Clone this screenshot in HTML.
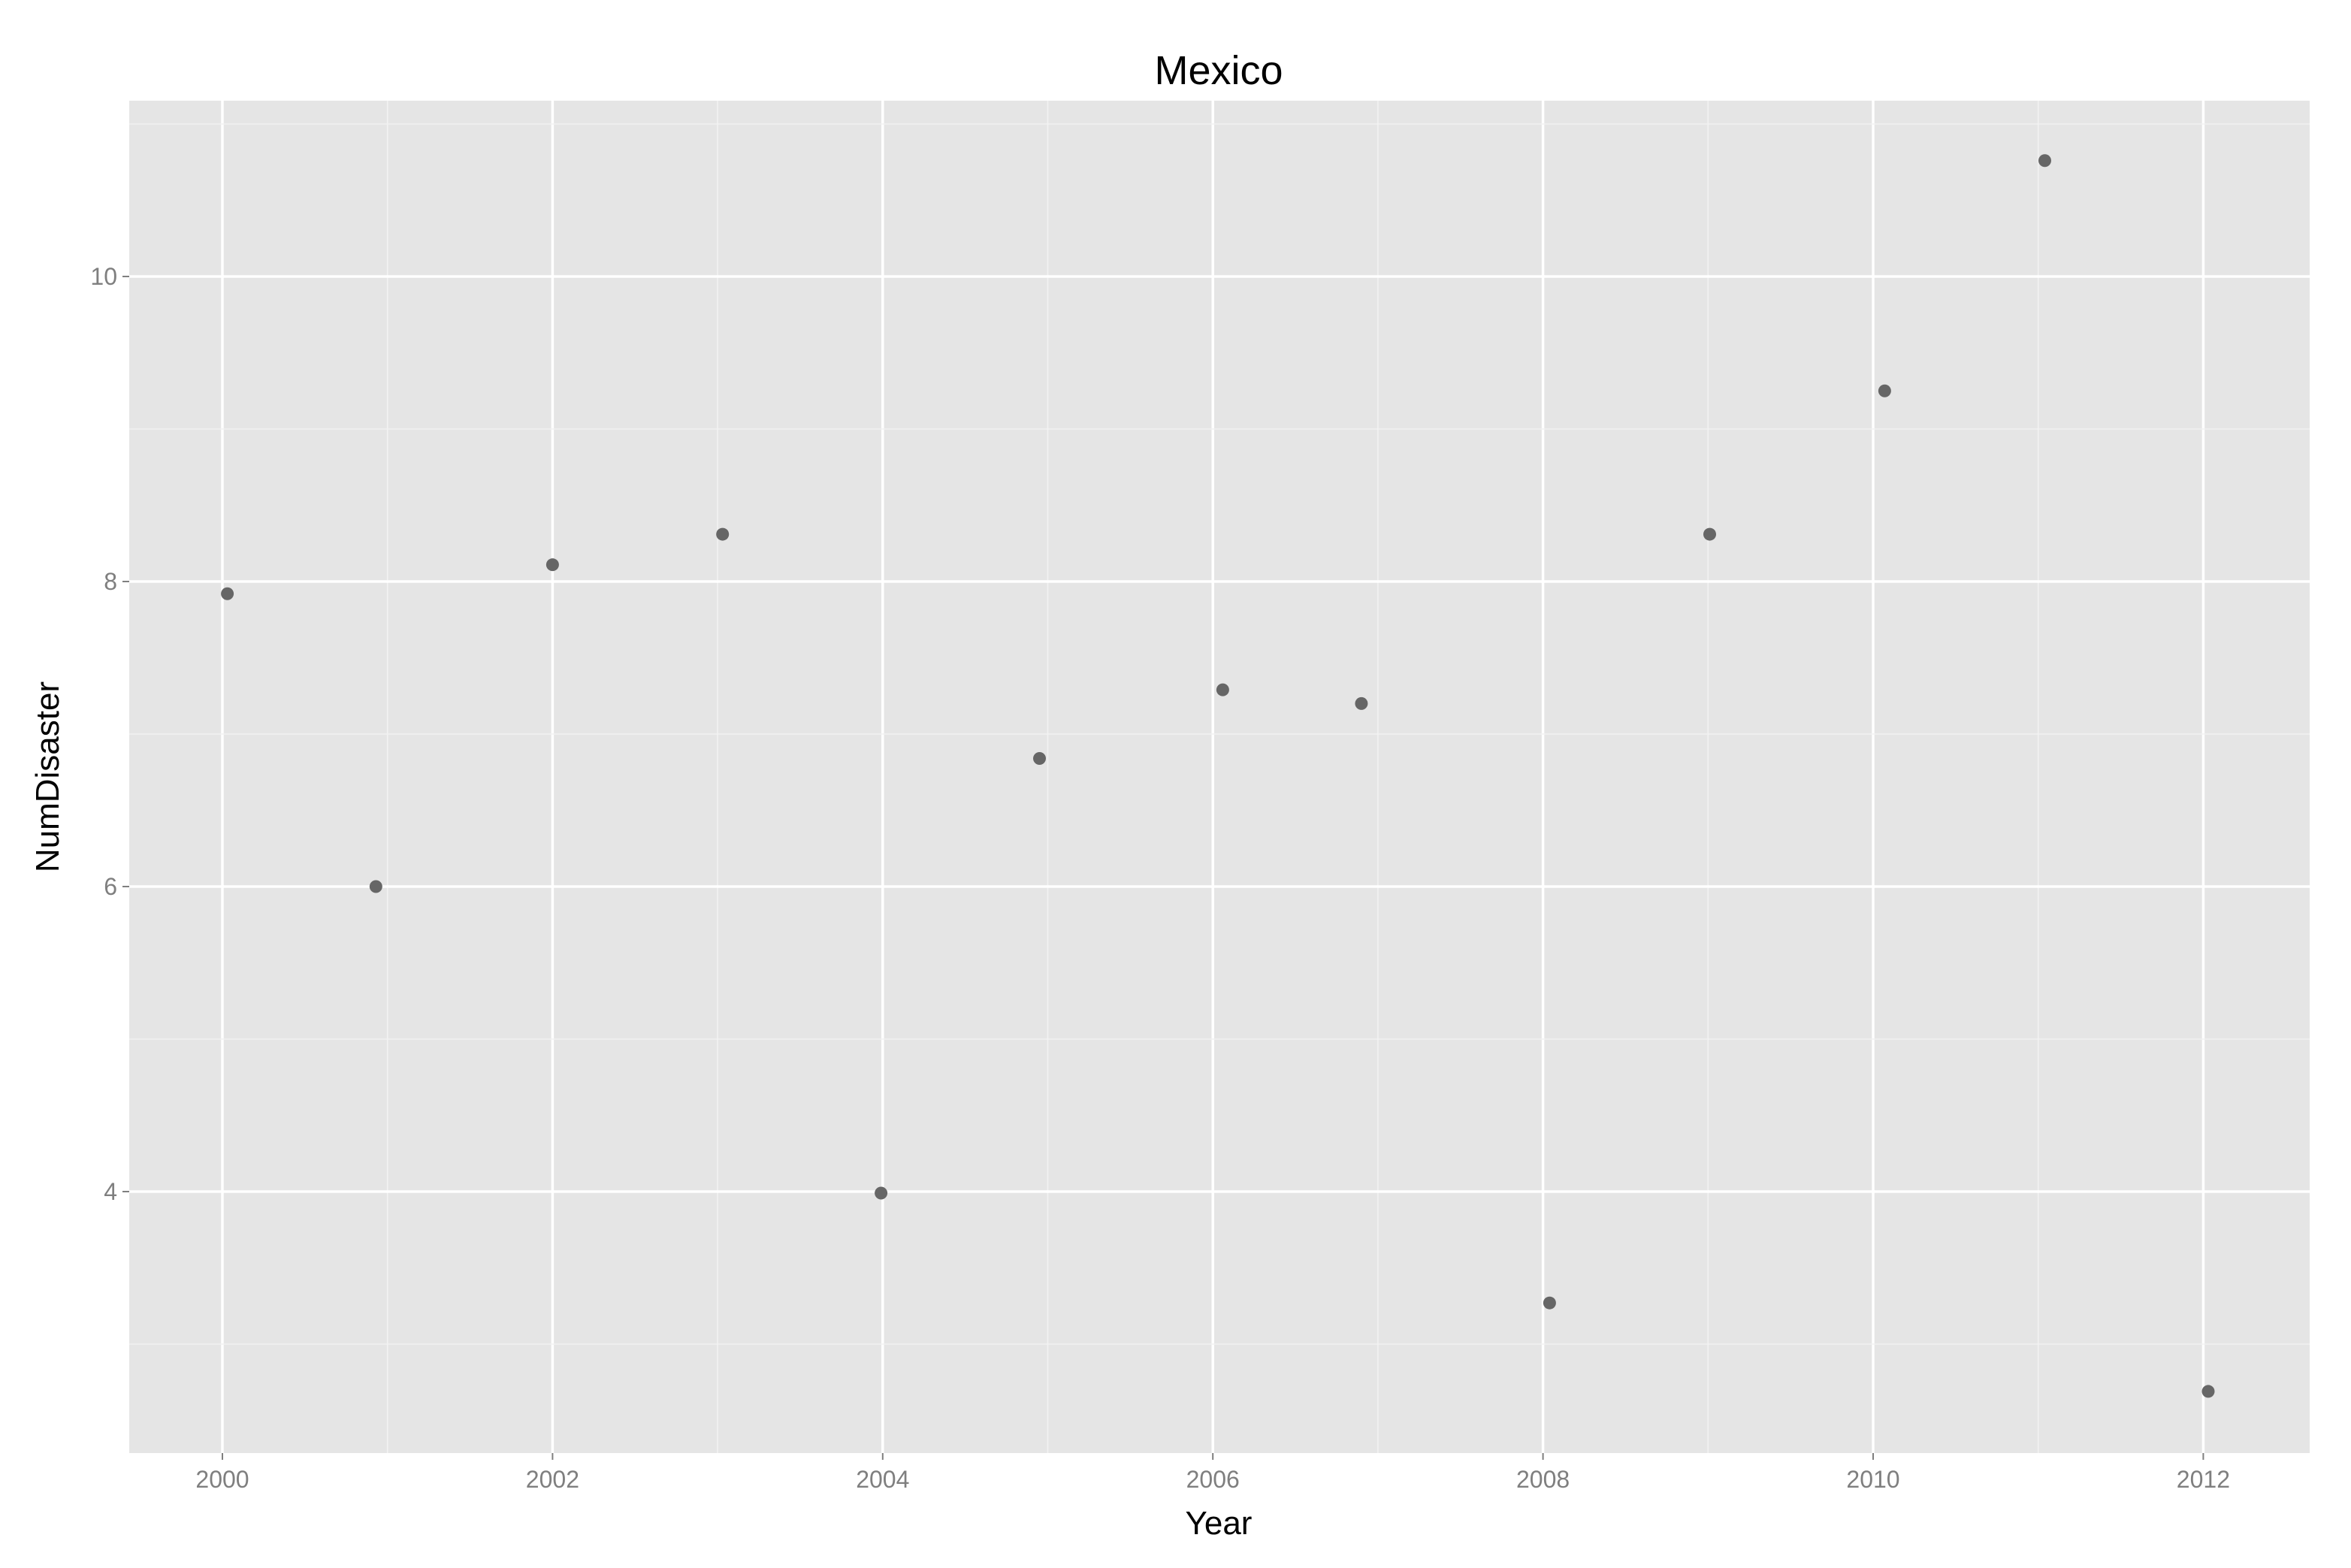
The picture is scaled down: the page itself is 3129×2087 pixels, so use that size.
<!DOCTYPE html>
<html><head><meta charset="utf-8"><style>body{margin:0;background:#fff}svg{display:block}</style></head>
<body>
<svg id="chart" width="3129" height="2087" xmlns="http://www.w3.org/2000/svg" font-family="Liberation Sans, sans-serif">
<rect width="3129" height="2087" fill="#fff"/>
<rect x="172" y="134" width="2902" height="1800" fill="#e5e5e5"/>
<g id="grid"></g><g id="ticks"></g><g id="points"></g>
<text x="1622" y="112" font-size="54" text-anchor="middle" fill="#000">Mexico</text>
<text x="1622" y="2042" font-size="44" text-anchor="middle" fill="#000">Year</text>
<text x="78" y="1034" font-size="44" text-anchor="middle" fill="#000" transform="rotate(-90 78 1034)">NumDisaster</text>
</svg>
<script>
const years=[2000.03,2000.93,2002.0,2003.03,2003.99,2004.95,2006.06,2006.9,2008.04,2009.01,2010.07,2011.04,2012.03];
const values=[7.92,6.0,8.11,8.31,3.99,6.84,7.29,7.20,3.27,8.31,9.25,10.76,2.69];
const xTicks=[2000,2002,2004,2006,2008,2010,2012];
const yTicks=[4,6,8,10];
const NS='http://www.w3.org/2000/svg';
const X=v=>296+(v-2000)*219.7;
const Y=v=>368+(10-v)*203;
const PL=172,PR=3074,PT=134,PB=1934;
function mk(tag,attrs,parent){const e=document.createElementNS(NS,tag);for(const k in attrs)e.setAttribute(k,attrs[k]);document.getElementById(parent).appendChild(e);return e;}
for(let y=1999;y<=2013;y++){const x=X(y);if(x<PL||x>PR)continue;
 const l=mk('line',{x1:x,x2:x,y1:PT,y2:PB,stroke:(y%2===0)?'#ffffff':'#f2f2f2','stroke-width':(y%2===0)?3.5:1.6},'grid');
 
 }
for(let v=2;v<=11;v++){const y=Y(v);if(y<PT||y>PB)continue;
 const l=mk('line',{x1:PL,x2:PR,y1:y,y2:y,stroke:(v%2===0)?'#ffffff':'#f2f2f2','stroke-width':(v%2===0)?3.5:1.6},'grid');
 
 }
xTicks.forEach(t=>{const x=X(t);
 const l=mk('line',{x1:x,x2:x,y1:PB,y2:PB+9,stroke:'#7f7f7f','stroke-width':2},'ticks');
 
 
 const s=mk('text',{x:x,y:PB+46,'font-size':32,'text-anchor':'middle',fill:'#7f7f7f'},'ticks');s.textContent=t;
 
 });
yTicks.forEach(t=>{const y=Y(t);
 const l=mk('line',{x1:PL-9,x2:PL,y1:y,y2:y,stroke:'#7f7f7f','stroke-width':2},'ticks');
 
 
 const s=mk('text',{x:PL-16,y:y+11,'font-size':32,'text-anchor':'end',fill:'#7f7f7f'},'ticks');s.textContent=t;
 
 });
years.forEach((yr,i)=>{const c=mk('circle',{cx:X(yr),cy:Y(values[i]),r:8.5,fill:'#666666'},'points');
 
 });
</script>
</body></html>
